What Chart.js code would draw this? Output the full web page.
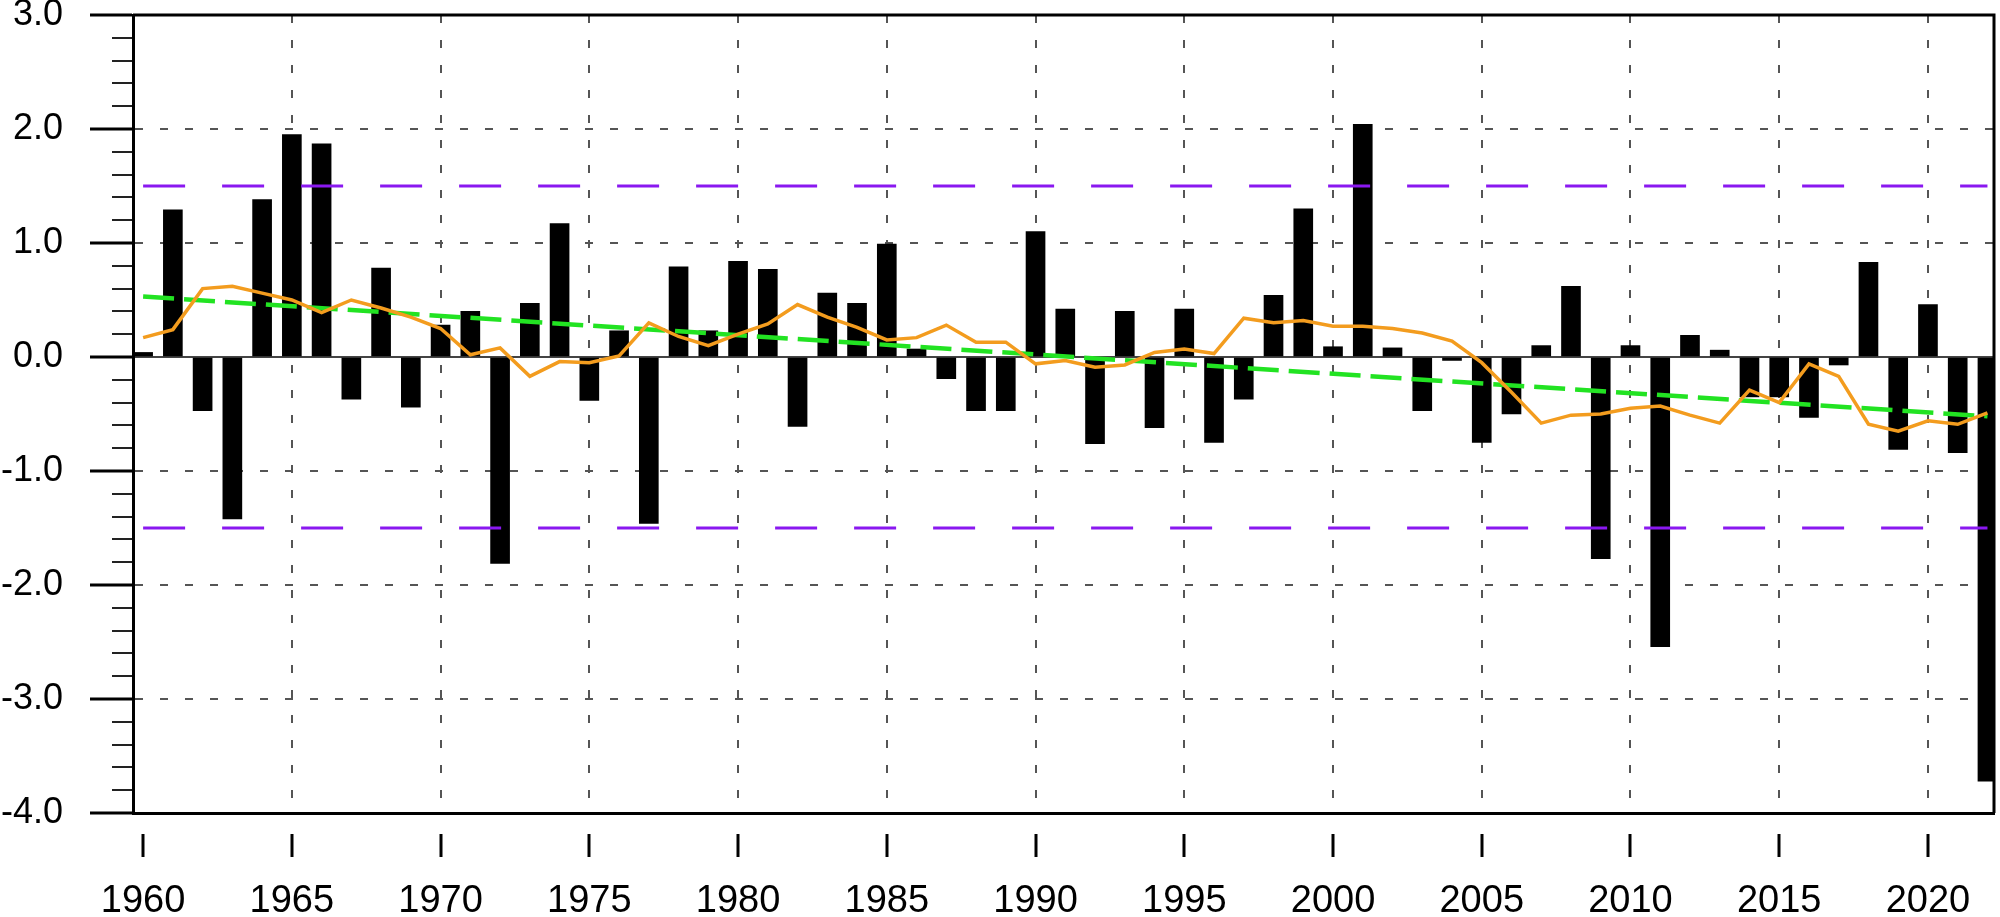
<!DOCTYPE html>
<html>
<head>
<meta charset="utf-8">
<script src="https://cdn.jsdelivr.net/npm/chart.js@4.4.1/dist/chart.umd.min.js"></script>
<style>
  html, body { margin: 0; padding: 0; background: #ffffff; }
  #wrap { width: 2000px; height: 917px; }
</style>
</head>
<body>
<div id="wrap"><canvas id="c" width="2000" height="917"></canvas></div>
<script>
// ---------------- data ----------------
const years = [1960,1961,1962,1963,1964,1965,1966,1967,1968,1969,
               1970,1971,1972,1973,1974,1975,1976,1977,1978,1979,
               1980,1981,1982,1983,1984,1985,1986,1987,1988,1989,
               1990,1991,1992,1993,1994,1995,1996,1997,1998,1999,
               2000,2001,2002,2003,2004,2005,2006,2007,2008,2009,
               2010,2011,2012,2013,2014,2015,2016,2017,2018,2019,
               2020,2021,2022];

const anomaly = [0.04, 1.29,-0.47,-1.42, 1.38, 1.95, 1.87,-0.37, 0.78,-0.44,
                 0.28, 0.40,-1.81, 0.47, 1.17,-0.38, 0.23,-1.46, 0.79, 0.23,
                 0.84, 0.77,-0.61, 0.56, 0.47, 0.99, 0.07,-0.19,-0.47,-0.47,
                 1.10, 0.42,-0.76, 0.40,-0.62, 0.42,-0.75,-0.37, 0.54, 1.30,
                 0.09, 2.04, 0.08,-0.47,-0.03,-0.75,-0.50, 0.10, 0.62,-1.77,
                 0.10,-2.54, 0.19, 0.06,-0.35,-0.35,-0.53,-0.07, 0.83,-0.81,
                 0.46,-0.84,-3.72];

const smoothed = [0.17, 0.24, 0.60, 0.62, 0.56, 0.50, 0.39, 0.50, 0.43, 0.35,
                  0.25, 0.02, 0.08,-0.17,-0.04,-0.05, 0.01, 0.30, 0.18, 0.10,
                  0.20, 0.29, 0.46, 0.35, 0.26, 0.15, 0.17, 0.28, 0.13, 0.13,
                 -0.06,-0.03,-0.09,-0.07, 0.04, 0.07, 0.03, 0.34, 0.30, 0.32,
                  0.27, 0.27, 0.25, 0.21, 0.14,-0.05,-0.31,-0.58,-0.51,-0.50,
                 -0.45,-0.43,-0.51,-0.58,-0.29,-0.40,-0.06,-0.17,-0.59,-0.65,
                 -0.56,-0.59,-0.49];

const trendYears  = [1960, 2022];
const trendValues = [0.53, -0.52];

const thresholdYears = [1960, 2022];
const upperThreshold = [1.5, 1.5];
const lowerThreshold = [-1.5, -1.5];

const xTickYears   = [1960,1965,1970,1975,1980,1985,1990,1995,2000,2005,2010,2015,2020];
const yLabelValues = [3, 2, 1, 0, -1, -2, -3, -4];

// ---------------- helpers ----------------
const FONT = "'Liberation Sans', Arial, Helvetica, sans-serif";
const pts = (xs, ys) => xs.map((x, i) => ({ x: x, y: ys[i] }));
const yVal = c => (c && c.tick) ? Math.round(c.tick.value * 10) / 10 : NaN;
const isMajorY = c => yLabelValues.includes(yVal(c));

const framePlugin = {
  id: 'frame',
  afterDatasetsDraw(chart) {
    const { ctx, chartArea: a } = chart;
    ctx.save();
    ctx.strokeStyle = '#000';
    ctx.lineWidth = 3;
    ctx.beginPath();
    ctx.moveTo(a.left, a.top);
    ctx.lineTo(a.right, a.top);
    ctx.lineTo(a.right, a.bottom);
    ctx.stroke();
    ctx.restore();
  }
};

new Chart(document.getElementById('c'), {
  type: 'bar',
  data: {
    datasets: [
      { type: 'line', label: 'smoothed', data: pts(years, smoothed),
        borderColor: '#f39c1e', borderWidth: 3.5, pointRadius: 0, tension: 0, order: 1 },
      { type: 'line', label: 'trend', data: pts(trendYears, trendValues),
        borderColor: '#22e322', borderWidth: 4.5, borderDash: [31, 10], pointRadius: 0, order: 2 },
      { type: 'line', label: 'upper', data: pts(thresholdYears, upperThreshold),
        borderColor: '#8a18f0', borderWidth: 3, borderDash: [42, 37], pointRadius: 0, order: 3 },
      { type: 'line', label: 'lower', data: pts(thresholdYears, lowerThreshold),
        borderColor: '#8a18f0', borderWidth: 3, borderDash: [42, 37], pointRadius: 0, order: 3 },
      { type: 'bar', label: 'anomaly', data: pts(years, anomaly),
        backgroundColor: '#000000', borderWidth: 0, barThickness: 19, order: 5 }
    ]
  },
  options: {
    responsive: false,
    animation: false,
    devicePixelRatio: 1,
    layout: { padding: { left: 0, top: 15, right: 6, bottom: 0 } },
    plugins: { legend: { display: false }, tooltip: { enabled: false } },
    scales: {
      x: {
        type: 'linear',
        min: 1959.66,
        max: 2022.22,
        offset: false,
        afterBuildTicks: s => { s.ticks = xTickYears.map(v => ({ value: v })); },
        afterFit: s => { s.height = 104; },
        ticks: {
          autoSkip: false, maxRotation: 0, minRotation: 0, padding: 22,
          color: '#000', font: { family: FONT, size: 38 },
          callback: v => String(v)
        },
        grid: {
          offset: false,
          color: c => (c.tick && c.tick.value === xTickYears[0]) ? 'rgba(0,0,0,0)' : '#555',
          lineWidth: 2,
          tickLength: 44, tickWidth: 3, tickColor: '#000',
          tickBorderDash: [25, 19], tickBorderDashOffset: 25
        },
        border: { display: true, color: '#000', width: 3, dash: [8, 17] }
      },
      y: {
        type: 'linear',
        min: -4,
        max: 3,
        afterFit: s => { s.width = 133; s.paddingTop = 0; s.paddingBottom = 0; },
        ticks: {
          stepSize: 0.2, autoSkip: false, padding: 27,
          color: '#000', font: { family: FONT, size: 36, lineHeight: 0.8 },
          callback: v => yLabelValues.includes(Math.round(v * 10) / 10) ? (Math.round(v * 10) / 10).toFixed(1) : ''
        },
        grid: {
          color: c => {
            const v = yVal(c);
            if (v === 0) return '#444';
            if (Number.isInteger(v) && v > -4 && v < 3) return '#555';
            return 'rgba(0,0,0,0)';
          },
          lineWidth: 2,
          tickLength: 43,
          tickWidth: c => isMajorY(c) ? 3 : 2,
          tickColor: c => isMajorY(c) ? '#000' : '#222',
          tickBorderDash: c => isMajorY(c) ? [] : [21, 22],
          tickBorderDashOffset: c => isMajorY(c) ? 0 : 21
        },
        border: { display: true, color: '#000', width: 3, dash: c => (yVal(c) === 0 ? [] : [8, 17]) }
      }
    }
  },
  plugins: [framePlugin]
});
</script>
</body>
</html>
